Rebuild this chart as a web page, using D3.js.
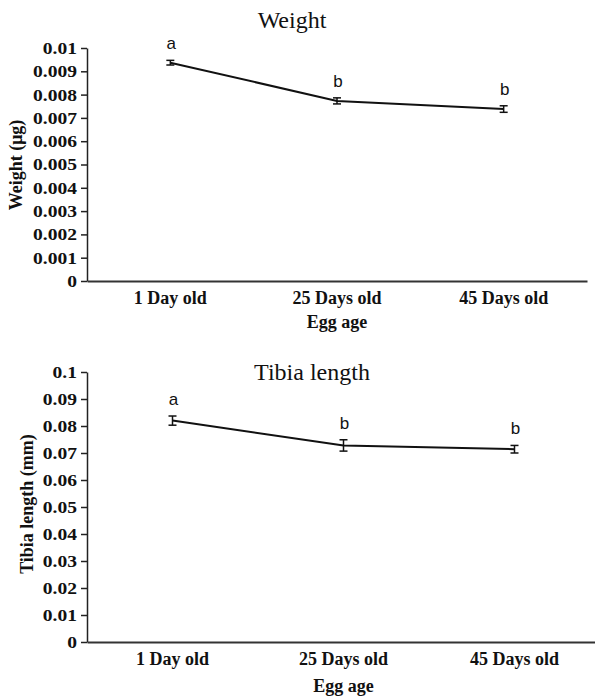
<!DOCTYPE html>
<html>
<head>
<meta charset="utf-8">
<script src="https://cdn.jsdelivr.net/npm/d3@7"></script>
<style>
  html, body { margin: 0; padding: 0; background: #fff; }
  svg { display: block; }
</style>
</head>
<body>
<svg id="chart" width="595" height="698"></svg>
<script>
// ---- data ----
const categories = ["1 Day old", "25 Days old", "45 Days old"];

const weightMeans = [0.00937, 0.00773, 0.00738];
const weightErrors = [0.00010, 0.00013, 0.00014];
const weightLetters = ["a", "b", "b"];
const weightTicks = [0, 0.001, 0.002, 0.003, 0.004, 0.005, 0.006, 0.007, 0.008, 0.009, 0.01];
const weightTickLabels = ["0", "0.001", "0.002", "0.003", "0.004", "0.005", "0.006", "0.007", "0.008", "0.009", "0.01"];

const tibiaMeans = [0.0820, 0.0728, 0.0714];
const tibiaErrors = [0.0017, 0.0021, 0.0014];
const tibiaLetters = ["a", "b", "b"];
const tibiaTicks = [0, 0.01, 0.02, 0.03, 0.04, 0.05, 0.06, 0.07, 0.08, 0.09, 0.1];
const tibiaTickLabels = ["0", "0.01", "0.02", "0.03", "0.04", "0.05", "0.06", "0.07", "0.08", "0.09", "0.1"];

// ---- drawing ----
const svg = d3.select("#chart");
const serif = "'Liberation Serif', 'Times New Roman', serif";
const sans = "'Liberation Sans', Arial, sans-serif";
const tickStretch = 1.15;

function panel(o) {
  const g = svg.append("g");
  const x = d3.scaleBand().domain(categories).range([o.left, o.right]);
  const y = d3.scaleLinear().domain([0, o.max]).range([o.bottom, o.top]);

  // y axis
  const yAxis = d3.axisLeft(y)
    .tickValues(o.ticks)
    .tickFormat((d, i) => o.tickLabels[i])
    .tickSize(6).tickPadding(4).tickSizeOuter(0);
  const ya = g.append("g").attr("transform", `translate(${o.left},0)`).call(yAxis);
  ya.select(".domain").attr("stroke", "#222").attr("stroke-width", 1.5);
  ya.selectAll(".tick line").attr("stroke", "#222").attr("stroke-width", 1.5);
  ya.selectAll(".tick text")
    .attr("x", -10 / tickStretch)
    .attr("transform", `scale(${tickStretch},1)`)
    .attr("font-family", serif).attr("font-weight", "bold")
    .attr("font-size", 17).attr("fill", "#111");

  // x axis
  const xAxis = d3.axisBottom(x).tickSize(0).tickPadding(0).tickSizeOuter(0);
  const xa = g.append("g").attr("transform", `translate(0,${o.bottom})`).call(xAxis);
  xa.select(".domain").attr("stroke", "#333").attr("stroke-width", 2);
  xa.selectAll(".tick text")
    .attr("dy", null).attr("y", o.xLabelDy)
    .attr("font-family", serif).attr("font-weight", "bold")
    .attr("font-size", 18).attr("fill", "#111");

  const cx = d => x(d) + x.bandwidth() / 2;
  const pts = categories.map((c, i) => ({ c, v: o.means[i], e: o.errors[i], l: o.letters[i] }));

  // line
  g.append("path")
    .datum(pts)
    .attr("fill", "none").attr("stroke", "#111").attr("stroke-width", 2)
    .attr("d", d3.line().x(d => cx(d.c)).y(d => y(d.v)));

  // error bars
  const eb = g.selectAll(".eb").data(pts).enter().append("g");
  eb.append("line")
    .attr("x1", d => cx(d.c)).attr("x2", d => cx(d.c))
    .attr("y1", d => y(d.v - d.e)).attr("y2", d => y(d.v + d.e))
    .attr("stroke", "#111").attr("stroke-width", 1.5);
  [-1, 1].forEach(s => {
    eb.append("line")
      .attr("x1", d => cx(d.c) - 4).attr("x2", d => cx(d.c) + 4)
      .attr("y1", d => y(d.v + s * d.e)).attr("y2", d => y(d.v + s * d.e))
      .attr("stroke", "#111").attr("stroke-width", 1.5);
  });

  // letters
  g.selectAll(".lt").data(pts).enter().append("text")
    .attr("x", d => cx(d.c) + 1)
    .attr("y", d => y(d.v + d.e) - 11)
    .attr("text-anchor", "middle")
    .attr("font-family", sans).attr("font-size", 17).attr("fill", "#111")
    .text(d => d.l);

  // title
  g.append("text")
    .attr("x", o.titleX).attr("y", o.titleY)
    .attr("text-anchor", "middle")
    .attr("font-family", serif).attr("font-size", 24).attr("fill", "#111")
    .text(o.title);

  // x title
  g.append("text")
    .attr("x", (o.left + o.right) / 2).attr("y", o.xTitleY)
    .attr("text-anchor", "middle")
    .attr("font-family", serif).attr("font-weight", "bold")
    .attr("font-size", 18).attr("fill", "#111")
    .text("Egg age");

  // y title
  g.append("text")
    .attr("transform", `translate(${o.yTitleX},${o.yTitleY}) rotate(-90)`)
    .attr("text-anchor", "middle")
    .attr("font-family", serif).attr("font-weight", "bold")
    .attr("font-size", 18).attr("fill", "#111")
    .text(o.yTitle);
}

panel({
  left: 87, right: 587, top: 48, bottom: 281, max: 0.01,
  ticks: weightTicks, tickLabels: weightTickLabels,
  means: weightMeans, errors: weightErrors, letters: weightLetters,
  title: "Weight", titleX: 292, titleY: 28,
  xLabelDy: 23, xTitleY: 328,
  yTitle: "Weight (μg)", yTitleX: 22, yTitleY: 165
});

panel({
  left: 87, right: 600, top: 372, bottom: 642, max: 0.1,
  ticks: tibiaTicks, tickLabels: tibiaTickLabels,
  means: tibiaMeans, errors: tibiaErrors, letters: tibiaLetters,
  title: "Tibia length", titleX: 312, titleY: 380,
  xLabelDy: 23, xTitleY: 692,
  yTitle: "Tibia length (mm)", yTitleX: 33, yTitleY: 504
});
</script>
</body>
</html>
